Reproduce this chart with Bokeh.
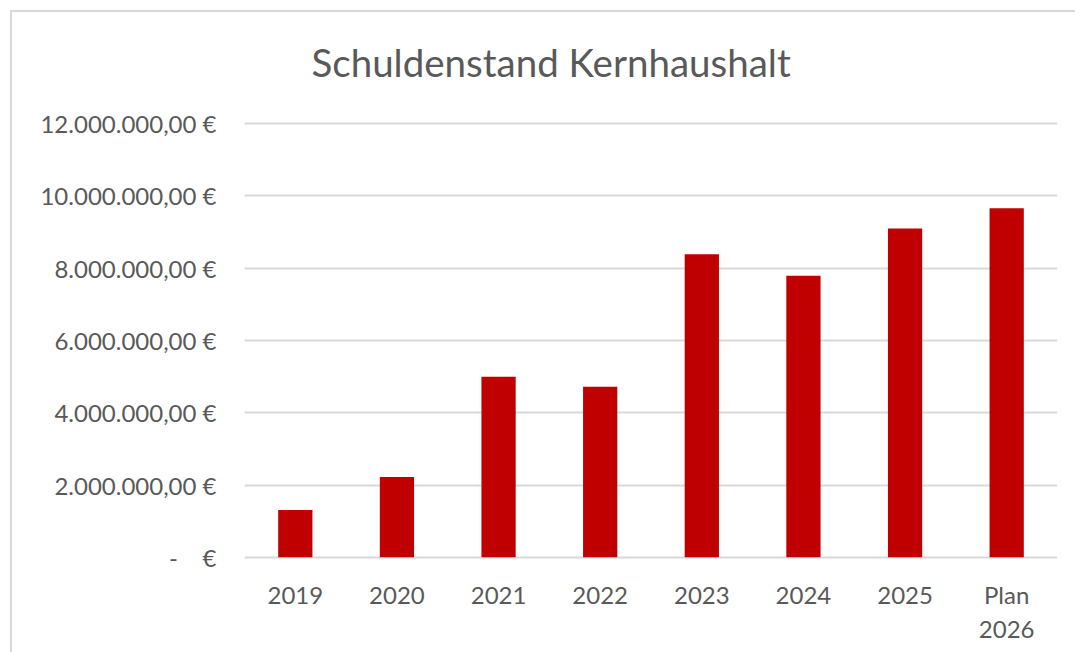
from bokeh.plotting import figure
from bokeh.models import FactorRange, Range1d, FixedTicker, ColumnDataSource
from bokeh.models.dom import Div as DomDiv
from bokeh.embed import file_html
from bokeh.resources import INLINE

# ---- data ----
years = ["2019", "2020", "2021", "2022", "2023", "2024", "2025", "Plan\n2026"]
debt = [1310000, 2220000, 5000000, 4720000, 8390000, 7790000, 9100000, 9660000]
y_ticks = [0, 2000000, 4000000, 6000000, 8000000, 10000000, 12000000]
y_tick_labels = [
    "-\u00a0\u00a0\u00a0\u00a0€",
    "2.000.000,00 €",
    "4.000.000,00 €",
    "6.000.000,00 €",
    "8.000.000,00 €",
    "10.000.000,00 €",
    "12.000.000,00 €",
]
title_text = "Schuldenstand Kernhaushalt"

FONT = "Lato"
GRAY = "#595959"

src = ColumnDataSource(data=dict(cat=years, val=debt))

p = figure(
    x_range=FactorRange(factors=years),
    y_range=Range1d(-60000, 12060000),
    width=1075, height=652,
    output_backend="svg", toolbar_location=None,
    min_border_left=244, min_border_right=18,
    min_border_top=121, min_border_bottom=93,
)

p.title.text = title_text
p.title.align = "left"
p.title.offset = 67
p.title.standoff = 73
p.title.text_font = FONT
p.title.text_font_size = "38.5px"
p.title.text_font_style = "normal"
p.title.text_color = GRAY

p.vbar(x="cat", top="val", width=0.337, source=src,
       fill_color="#C00000", line_color=None)

p.yaxis.ticker = FixedTicker(ticks=y_ticks)
p.yaxis.major_label_overrides = dict(zip(y_ticks, y_tick_labels))
p.yaxis.axis_line_color = None
p.yaxis.major_tick_line_color = None
p.yaxis.minor_tick_line_color = None
p.yaxis.major_tick_out = 0
p.yaxis.major_label_standoff = 28
p.yaxis.major_label_text_font = FONT
p.yaxis.major_label_text_font_size = "24px"
p.yaxis.major_label_text_color = GRAY

p.xaxis.axis_line_color = None
p.xaxis.major_tick_line_color = None
p.xaxis.major_tick_out = 0
p.xaxis.major_label_standoff = 20
p.xaxis.major_label_text_font = FONT
p.xaxis.major_label_text_font_size = "24px"
p.xaxis.major_label_text_color = GRAY

p.xgrid.grid_line_color = None
p.ygrid.grid_line_color = "#d9d9d9"
p.ygrid.grid_line_width = 2

p.outline_line_color = None
p.border_fill_color = "#ffffff"

# chart-area border: only its top and left edges are visible
edge_top = DomDiv(style={"position": "absolute", "left": "10px", "top": "10px",
                         "right": "0px", "height": "2px",
                         "background-color": "#d9d9d9", "z-index": "5"})
edge_left = DomDiv(style={"position": "absolute", "left": "10px", "top": "10px",
                          "bottom": "0px", "width": "2px",
                          "background-color": "#d9d9d9", "z-index": "5"})
p.elements = [edge_top, edge_left]

open("out.html", "w").write(file_html(p, INLINE))
